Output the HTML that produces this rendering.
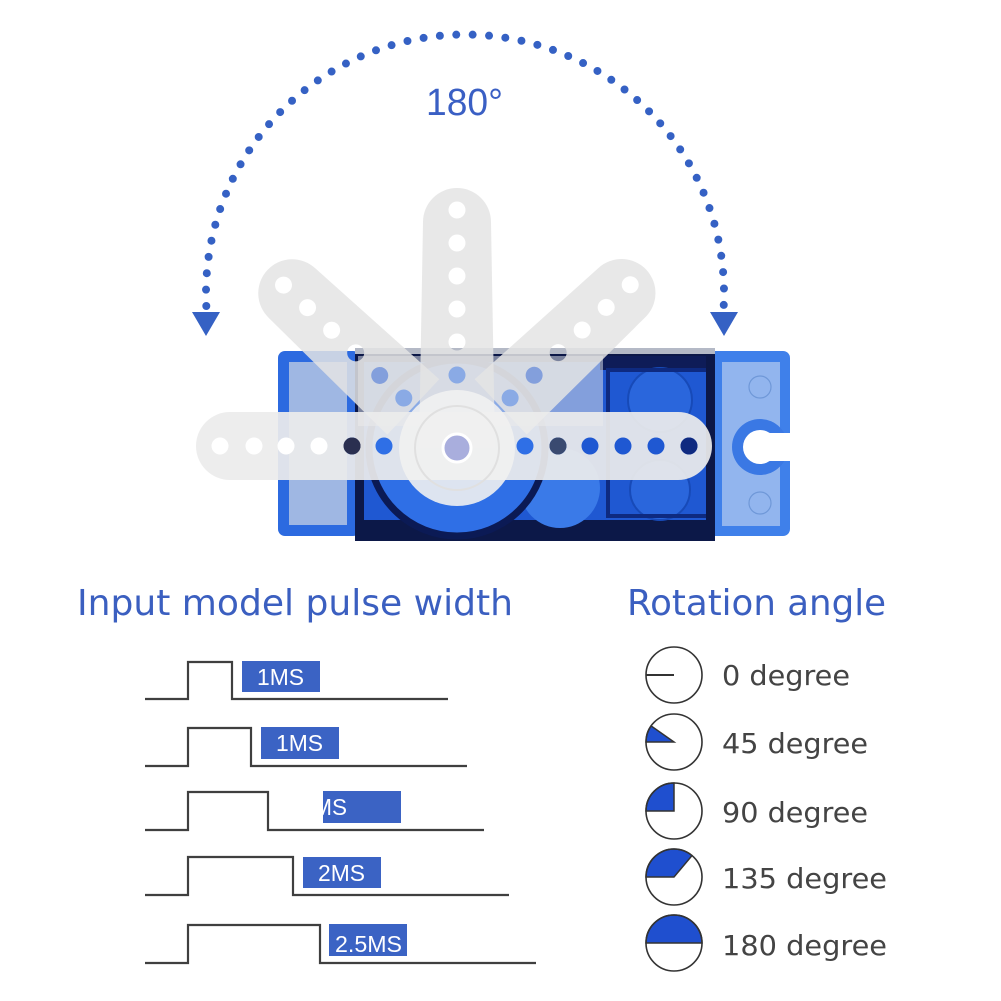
<!DOCTYPE html>
<html><head><meta charset="utf-8"><style>
html,body{margin:0;padding:0;background:#fff;}
svg{display:block;}
</style></head><body>
<svg width="1001" height="1001" viewBox="0 0 1001 1001" xmlns="http://www.w3.org/2000/svg">
<rect width="1001" height="1001" fill="#fff"/>

<!-- dotted arc -->
<path d="M 206.3 306 A 259 259 0 1 1 723.7 306" fill="none" stroke="#3561c4" stroke-width="8" stroke-linecap="round" stroke-dasharray="0 16.42"/>
<polygon points="192,312 220,312 206,336" fill="#3561c4"/>
<polygon points="710,312 738,312 724,336" fill="#3561c4"/>
<text x="426" y="115" font-family="Liberation Sans, sans-serif" font-size="38" fill="#3a5fc4" textLength="77" lengthAdjust="spacingAndGlyphs">180°</text>

<!-- servo: left tab -->
<rect x="278" y="351" width="82" height="185" rx="7" fill="#2c6ae0"/>
<rect x="289" y="362" width="58" height="163" fill="#9fb7e3"/>
<!-- right tab -->
<rect x="708" y="351" width="82" height="185" rx="7" fill="#3f80ea"/>
<rect x="722" y="362" width="58" height="164" fill="#92b5ee"/>
<circle cx="760" cy="447" r="28" fill="#3a78e4"/>
<circle cx="760" cy="447" r="17" fill="#fff"/>
<rect x="760" y="433" width="31" height="28" fill="#fff"/>
<circle cx="760" cy="387" r="11" fill="none" stroke="#6f98d8" stroke-width="1.2"/>
<circle cx="760" cy="503" r="11" fill="none" stroke="#6f98d8" stroke-width="1.2"/>
<!-- main body -->
<rect x="355" y="350" width="360" height="191" fill="#0c1848"/>
<rect x="355" y="348" width="360" height="6" fill="#b4b9c6"/>
<rect x="364" y="362" width="342" height="158" fill="#1f58d2"/>
<rect x="600" y="356" width="106" height="14" fill="#0e1c58"/>
<circle cx="660" cy="400" r="32" fill="#2a66dc" stroke="#174ab8" stroke-width="2"/>
<circle cx="660" cy="490" r="30" fill="#2a66dc" stroke="#174ab8" stroke-width="2"/>
<circle cx="560" cy="488" r="40" fill="#3a7ae8"/>
<circle cx="457" cy="448" r="88" fill="#2f6fe6" stroke="#0b1a55" stroke-width="7"/>
<rect x="606" y="368" width="4" height="150" fill="#0e2a80"/>
<rect x="606" y="368" width="100" height="4" fill="#0e2a80"/>
<rect x="606" y="514" width="100" height="4" fill="#0e2a80"/>
<rect x="358" y="356" width="245" height="70" fill="#d5dae4" opacity="0.55"/>

<!-- ghost arms -->
<g fill="#e4e4e4" fill-opacity="0.85" fill-rule="evenodd">
  <g transform="translate(457,448)">
    <path d="M -38 0 L -34 -226 A 34 34 0 0 1 34 -226 L 38 0 Z
      M -8.5 -73 a 8.5 8.5 0 1 0 17 0 a 8.5 8.5 0 1 0 -17 0
      M -8.5 -106 a 8.5 8.5 0 1 0 17 0 a 8.5 8.5 0 1 0 -17 0
      M -8.5 -139 a 8.5 8.5 0 1 0 17 0 a 8.5 8.5 0 1 0 -17 0
      M -8.5 -172 a 8.5 8.5 0 1 0 17 0 a 8.5 8.5 0 1 0 -17 0
      M -8.5 -205 a 8.5 8.5 0 1 0 17 0 a 8.5 8.5 0 1 0 -17 0
      M -8.5 -238 a 8.5 8.5 0 1 0 17 0 a 8.5 8.5 0 1 0 -17 0"/>
  </g>
  <g transform="translate(457,448) rotate(-46.8)">
    <path d="M -38 -60 L -34 -226 A 34 34 0 0 1 34 -226 L 38 -60 Z
      M -8.5 -73 a 8.5 8.5 0 1 0 17 0 a 8.5 8.5 0 1 0 -17 0
      M -8.5 -106 a 8.5 8.5 0 1 0 17 0 a 8.5 8.5 0 1 0 -17 0
      M -8.5 -139 a 8.5 8.5 0 1 0 17 0 a 8.5 8.5 0 1 0 -17 0
      M -8.5 -172 a 8.5 8.5 0 1 0 17 0 a 8.5 8.5 0 1 0 -17 0
      M -8.5 -205 a 8.5 8.5 0 1 0 17 0 a 8.5 8.5 0 1 0 -17 0
      M -8.5 -238 a 8.5 8.5 0 1 0 17 0 a 8.5 8.5 0 1 0 -17 0"/>
  </g>
  <g transform="translate(457,448) rotate(46.7)">
    <path d="M -38 -60 L -34 -226 A 34 34 0 0 1 34 -226 L 38 -60 Z
      M -8.5 -73 a 8.5 8.5 0 1 0 17 0 a 8.5 8.5 0 1 0 -17 0
      M -8.5 -106 a 8.5 8.5 0 1 0 17 0 a 8.5 8.5 0 1 0 -17 0
      M -8.5 -139 a 8.5 8.5 0 1 0 17 0 a 8.5 8.5 0 1 0 -17 0
      M -8.5 -172 a 8.5 8.5 0 1 0 17 0 a 8.5 8.5 0 1 0 -17 0
      M -8.5 -205 a 8.5 8.5 0 1 0 17 0 a 8.5 8.5 0 1 0 -17 0
      M -8.5 -238 a 8.5 8.5 0 1 0 17 0 a 8.5 8.5 0 1 0 -17 0"/>
  </g>
</g>

<!-- horizontal arm -->
<path fill="#ececec" fill-opacity="0.93" fill-rule="evenodd" d="M 230 412 L 678 412 A 34 34 0 0 1 678 480 L 230 480 A 34 34 0 0 1 230 412 Z
  M 343.5 446 a 8.5 8.5 0 1 0 17 0 a 8.5 8.5 0 1 0 -17 0
  M 375.5 446 a 8.5 8.5 0 1 0 17 0 a 8.5 8.5 0 1 0 -17 0
  M 516.5 446 a 8.5 8.5 0 1 0 17 0 a 8.5 8.5 0 1 0 -17 0
  M 549.5 446 a 8.5 8.5 0 1 0 17 0 a 8.5 8.5 0 1 0 -17 0
  M 581.5 446 a 8.5 8.5 0 1 0 17 0 a 8.5 8.5 0 1 0 -17 0
  M 614.5 446 a 8.5 8.5 0 1 0 17 0 a 8.5 8.5 0 1 0 -17 0
  M 647.5 446 a 8.5 8.5 0 1 0 17 0 a 8.5 8.5 0 1 0 -17 0
  M 680.5 446 a 8.5 8.5 0 1 0 17 0 a 8.5 8.5 0 1 0 -17 0"/>
<g fill="#ffffff">
  <circle cx="220" cy="446" r="8.5"/>
  <circle cx="254" cy="446" r="8.5"/>
  <circle cx="286" cy="446" r="8.5"/>
  <circle cx="319" cy="446" r="8.5"/>
</g>
<circle cx="352" cy="446" r="8.5" fill="#2a2f50"/>
<circle cx="558" cy="446" r="8.5" fill="#3a4a70"/>
<circle cx="689" cy="446" r="8.5" fill="#0f2a80"/>

<!-- hub -->
<circle cx="457" cy="448" r="58" fill="#f1f1f1" fill-opacity="0.9"/>
<circle cx="457" cy="448" r="42" fill="none" stroke="#e0e0e0" stroke-width="2"/>
<circle cx="457" cy="448" r="14" fill="#a9aedd" stroke="#ffffff" stroke-width="3"/>

<!-- headings -->
<text x="77" y="615" font-family="DejaVu Sans, sans-serif" font-size="36" fill="#3b5fc0" textLength="436" lengthAdjust="spacingAndGlyphs">Input model pulse width</text>
<text x="627" y="615" font-family="DejaVu Sans, sans-serif" font-size="36" fill="#3b5fc0" textLength="259" lengthAdjust="spacingAndGlyphs">Rotation angle</text>

<!-- pulses -->
<g fill="none" stroke="#3f3f3f" stroke-width="2.2">
  <polyline points="145,699 188,699 188,662 232,662 232,699 448,699"/>
  <polyline points="145,766 188,766 188,728 251,728 251,766 467,766"/>
  <polyline points="145,830 188,830 188,792 268,792 268,830 484,830"/>
  <polyline points="145,895 188,895 188,857 293,857 293,895 509,895"/>
  <polyline points="145,963 188,963 188,925 320,925 320,963 536,963"/>
</g>
<g fill="#3b63c4">
  <rect x="242" y="661" width="78" height="31"/>
  <rect x="261" y="727" width="78" height="32"/>
  <rect x="323" y="791" width="78" height="32"/>
  <rect x="303" y="857" width="78" height="31"/>
  <rect x="329" y="924" width="78" height="32"/>
</g>
<g font-family="Liberation Sans, sans-serif" font-size="23" fill="#fff">
  <text x="257" y="685" textLength="47" lengthAdjust="spacingAndGlyphs">1MS</text>
  <text x="276" y="751" textLength="47" lengthAdjust="spacingAndGlyphs">1MS</text>
  <text x="282" y="815" textLength="65" lengthAdjust="spacingAndGlyphs">1.5MS</text>
  <text x="318" y="881" textLength="47" lengthAdjust="spacingAndGlyphs">2MS</text>
  <text x="335" y="952" textLength="67" lengthAdjust="spacingAndGlyphs">2.5MS</text>
</g>

<!-- angle circles -->
<g stroke="#333" stroke-width="1.5">
  <path d="M 674 742 L 646 742 A 28 28 0 0 1 651.1 725.9 Z" fill="#1f4fcf"/>
  <path d="M 674 811 L 646 811 A 28 28 0 0 1 674 783 Z" fill="#1f4fcf"/>
  <path d="M 674 877 L 646 877 A 28 28 0 0 1 692 855.6 Z" fill="#1f4fcf"/>
  <path d="M 646 943 A 28 28 0 0 1 702 943 Z" fill="#1f4fcf"/>
</g>
<g fill="none" stroke="#333" stroke-width="1.6">
  <circle cx="674" cy="675" r="28"/>
  <circle cx="674" cy="742" r="28"/>
  <circle cx="674" cy="811" r="28"/>
  <circle cx="674" cy="877" r="28"/>
  <circle cx="674" cy="943" r="28"/>
  <line x1="646" y1="675" x2="674" y2="675" stroke-width="2"/>
</g>
<g font-family="DejaVu Sans, sans-serif" font-size="28" fill="#444">
  <text x="722" y="685" textLength="128" lengthAdjust="spacingAndGlyphs">0 degree</text>
  <text x="722" y="753" textLength="146" lengthAdjust="spacingAndGlyphs">45 degree</text>
  <text x="722" y="822" textLength="146" lengthAdjust="spacingAndGlyphs">90 degree</text>
  <text x="722" y="888" textLength="165" lengthAdjust="spacingAndGlyphs">135 degree</text>
  <text x="722" y="955" textLength="165" lengthAdjust="spacingAndGlyphs">180 degree</text>
</g>
</svg>
</body></html>
